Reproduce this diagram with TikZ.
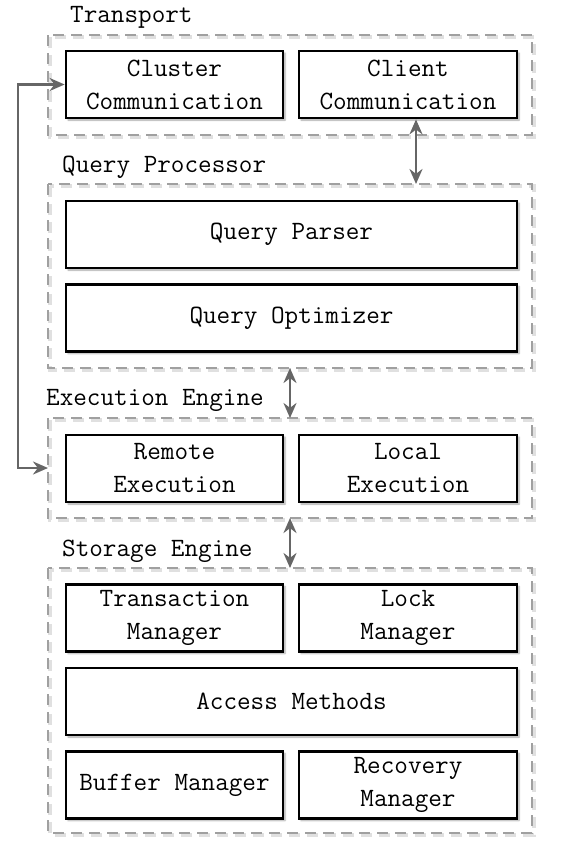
\documentclass[tikz,border=0pt]{standalone}
\usetikzlibrary{arrows.meta,shadows.blur,calc}
\definecolor{groupgray}{HTML}{A0A0A0}
\definecolor{arrowgray}{HTML}{666666}
\begin{document}
\begin{tikzpicture}[x=1pt,y=-1pt,
  every node/.style={font=\fontsize{26.4pt}{33pt}\selectfont\ttfamily},
  comp/.style={draw=black, line width=2.8pt, fill=white, inner sep=0pt,
    align=center, minimum height=67pt,
    blur shadow={shadow xshift=2pt, shadow yshift=-2pt, shadow blur steps=6, shadow opacity=35}},
  half/.style={comp, minimum width=217pt},
  full/.style={comp, minimum width=451pt},
  group/.style={draw=groupgray, line width=2.8pt, dash pattern=on 11pt off 7pt,
    preaction={draw=black!12, line width=3.2pt, dash pattern=on 11pt off 7pt,
      transform canvas={shift={(2pt,-2pt)}}}},
  grouplabel/.style={anchor=base west, inner sep=0pt},
  link/.style={draw=arrowgray, line width=2.8pt,
    {Stealth[length=15pt,width=13pt]}-{Stealth[length=15pt,width=13pt]}},
  ]
\useasboundingbox (0,0) rectangle (582,846);

% layer groups
\draw[group] (48,35) rectangle (532,135);
\draw[group] (48,184) rectangle (532,368);
\draw[group] (48,418) rectangle (532,518);
\draw[group] (48,568) rectangle (532,833);
\coordinate (qtop) at (416,184);
\coordinate (qbot) at (290,368);
\coordinate (etop) at (290,418);
\coordinate (ebot) at (290,518);
\coordinate (ewest) at (48,468);
\coordinate (stop) at (290,568);

% group titles
\node[grouplabel] (tlabel) at (70,22) {Transport};
\node[grouplabel] (qlabel) at (62,172) {Query Processor};
\node[grouplabel] (elabel) at (46,405) {Execution Engine};
\node[grouplabel] (slabel) at (62,556) {Storage Engine};

% components
\node[half] (cluster) at (174.5,84.5) {Cluster\\Communication};
\node[half, minimum width=218pt] (client) at (408,84.5) {Client\\Communication};
\node[full] (parser) at (291.5,234.5) {Query Parser};
\node[full] (optimizer) at (291.5,318) {Query Optimizer};
\node[half] (remote) at (174.5,468.5) {Remote\\Execution};
\node[half, minimum width=218pt] (local) at (408,468.5) {Local\\Execution};
\node[half] (txn) at (174.5,618) {Transaction\\Manager};
\node[half, minimum width=218pt] (lock) at (408,618) {Lock\\Manager};
\node[full] (access) at (291.5,701.5) {Access Methods};
\node[half] (buffer) at (174.5,785) {Buffer Manager};
\node[half, minimum width=218pt] (recovery) at (408,785) {Recovery\\Manager};

% connectors
\draw[link] ([xshift=8pt]client.south) -- (qtop);
\draw[link] (qbot) -- (etop);
\draw[link] (ebot) -- (stop);
\coordinate (bend1) at (18,84.5);
\coordinate (bend2) at (18,468);
\draw[link] (cluster.west) -- (bend1) -- (bend2) -- (ewest);
\end{tikzpicture}
\end{document}
